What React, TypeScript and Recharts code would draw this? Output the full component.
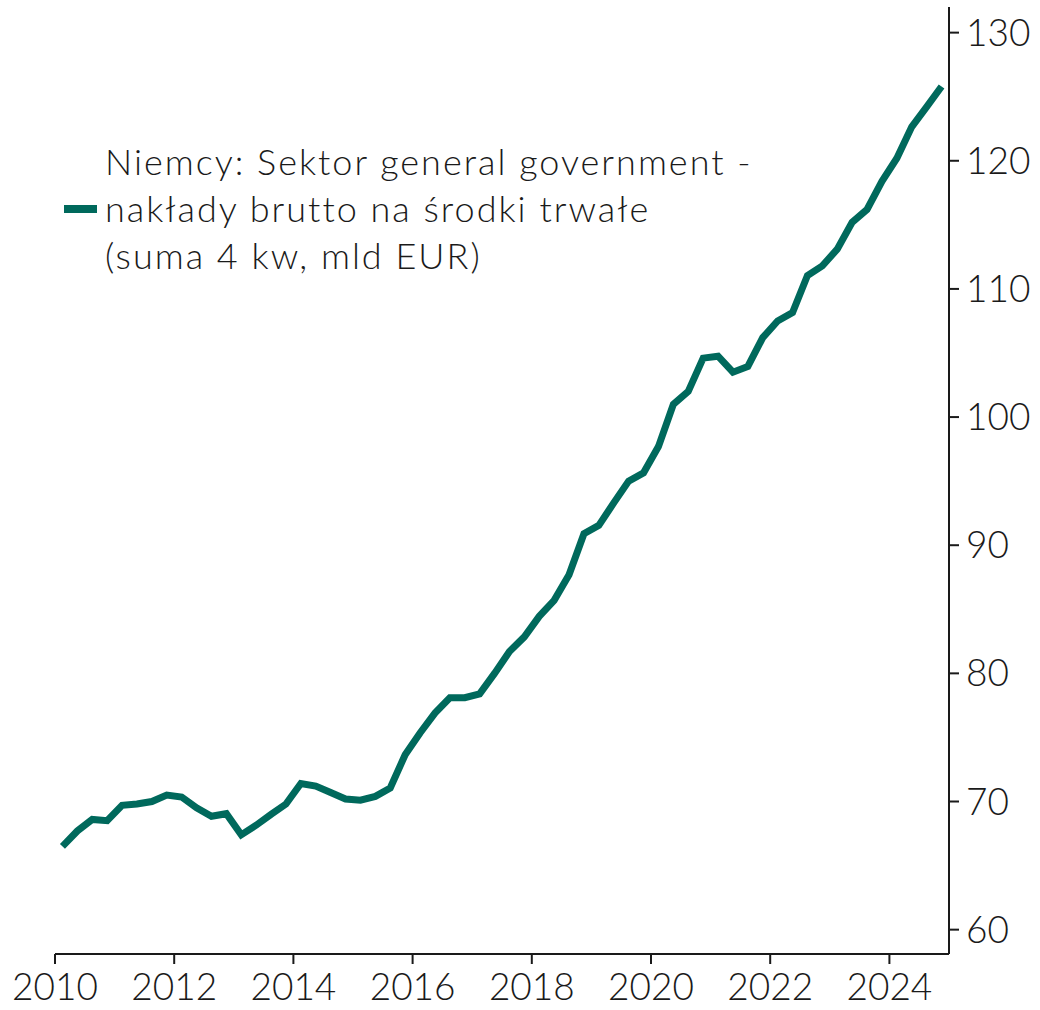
import React from "react";
import { LineChart, Line, XAxis, YAxis, Legend } from "recharts";

const quarters: number[] = [
  2010.125, 2010.375, 2010.625, 2010.875,
  2011.125, 2011.375, 2011.625, 2011.875,
  2012.125, 2012.375, 2012.625, 2012.875,
  2013.125, 2013.375, 2013.625, 2013.875,
  2014.125, 2014.375, 2014.625, 2014.875,
  2015.125, 2015.375, 2015.625, 2015.875,
  2016.125, 2016.375, 2016.625, 2016.875,
  2017.125, 2017.375, 2017.625, 2017.875,
  2018.125, 2018.375, 2018.625, 2018.875,
  2019.125, 2019.375, 2019.625, 2019.875,
  2020.125, 2020.375, 2020.625, 2020.875,
  2021.125, 2021.375, 2021.625, 2021.875,
  2022.125, 2022.375, 2022.625, 2022.875,
  2023.125, 2023.375, 2023.625, 2023.875,
  2024.125, 2024.375, 2024.625, 2024.875,
];

const investment: number[] = [
  66.5, 67.7, 68.6, 68.5,
  69.7, 69.8, 70.0, 70.5,
  70.35, 69.5, 68.85, 69.05,
  67.4, 68.15, 69.0, 69.8,
  71.4, 71.2, 70.7, 70.2,
  70.1, 70.4, 71.05, 73.65,
  75.35, 76.9, 78.1, 78.1,
  78.4, 80.0, 81.7, 82.85,
  84.45, 85.7, 87.7, 90.9,
  91.55, 93.3, 95.0, 95.65,
  97.7, 101.0, 102.0, 104.6,
  104.75, 103.5, 103.95, 106.2,
  107.5, 108.15, 111.05, 111.8,
  113.1, 115.2, 116.2, 118.4,
  120.2, 122.65, 124.2, 125.8,
];

const xTicks: number[] = [2010, 2012, 2014, 2016, 2018, 2020, 2022, 2024];
const yTicks: number[] = [60, 70, 80, 90, 100, 110, 120, 130];

const seriesName = "Niemcy: Sektor general government - nakłady brutto na środki trwałe (suma 4 kw, mld EUR)";
const legendLines: string[] = [
  "Niemcy: Sektor general government -",
  "nakłady brutto na środki trwałe",
  "(suma 4 kw, mld EUR)",
];

const data = quarters.map((q, i) => ({ t: q, v: investment[i] }));

const COLOR = "#00695c";
const FONT = "Lato, 'Open Sans', sans-serif";

const LegendContent = () => (
  <div style={{ display: "flex", alignItems: "center", fontFamily: FONT, fontWeight: 300 }}>
    <div style={{ width: 33, height: 8, background: COLOR, marginRight: 8 }} />
    <div style={{ fontSize: 36, lineHeight: "47px", color: "#1a1a1a", letterSpacing: "2px" }}>
      {legendLines.map((l, i) => (
        <div key={i} style={{ whiteSpace: "nowrap" }}>{l}</div>
      ))}
    </div>
  </div>
);

export default function App() {
  return (
    <div style={{ position: "absolute", left: 0, top: 0, width: 1040, height: 1010, background: "#fff" }}>
      <LineChart width={1040} height={1010} data={data} margin={{ top: 7, right: 0, left: 55, bottom: 0 }}>
        <XAxis
          dataKey="t"
          type="number"
          domain={[2010, 2025]}
          ticks={xTicks}
          height={56}
          tickSize={10}
          tickMargin={10}
          stroke="#1a1a1a"
          strokeWidth={2}
          tick={{ fill: "#1a1a1a", fontSize: 37, fontFamily: FONT, fontWeight: 300 }}
          interval={0}
        />
        <YAxis
          orientation="right"
          type="number"
          domain={[58.1, 132]}
          ticks={yTicks}
          width={91}
          tickSize={10}
          tickMargin={7}
          stroke="#1a1a1a"
          strokeWidth={2}
          tick={{ fill: "#1a1a1a", fontSize: 37, fontFamily: FONT, fontWeight: 300 }}
          interval={0}
        />
        <Legend
          layout="vertical"
          verticalAlign="middle"
          align="center"
          content={LegendContent}
          wrapperStyle={{ position: "absolute", left: 64, top: 138, width: "auto", height: "auto" }}
        />
        <Line
          type="linear"
          dataKey="v"
          name={seriesName}
          stroke={COLOR}
          strokeWidth={7}
          dot={false}
          activeDot={false}
          isAnimationActive={false}
        />
      </LineChart>
    </div>
  );
}
